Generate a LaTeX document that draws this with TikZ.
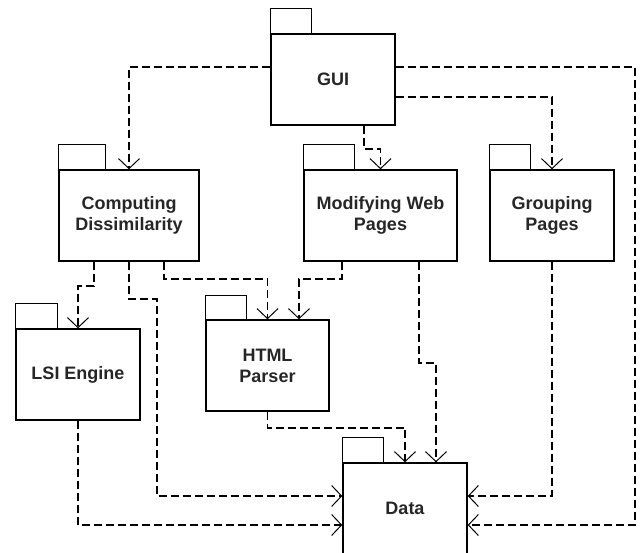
\documentclass[tikz,border=0pt]{standalone}
\usepackage{fontspec}
\setmainfont{Liberation Sans}
\usetikzlibrary{arrows.meta}
\tikzset{
  pkg/.style={draw=black, line width=1.4pt, minimum height=91pt, inner sep=0pt,
    align=center, font=\bfseries\fontsize{18}{21}\selectfont, text=black!85},
  tab/.style={draw=black, line width=1.4pt},
  dep/.style={draw=black, line width=1.8pt, dash pattern=on 8pt off 4pt,
    -{Straight Barb[length=10pt,width=21pt,line width=1pt]}},
}
\begin{document}
\begin{tikzpicture}[x=1pt,y=-1pt]
\clip (0,0) rectangle (640,553);
\fill[white] (0,0) rectangle (640,553);
% packages
\node[pkg, minimum width=124pt] (gui) at (333,79.5) {GUI};
\node[pkg, minimum width=140pt] (cd) at (129,215.5) {Computing\\Dissimilarity};
\node[pkg, minimum width=153pt] (mwp) at (380.5,215.5) {Modifying Web\\Pages};
\node[pkg, minimum width=124pt] (gp) at (552,215.5) {Grouping\\Pages};
\node[pkg, minimum width=124pt] (lsi) at (78,374.5) {LSI Engine};
\node[pkg, minimum width=123pt] (html) at (267.5,365.5) {HTML\\Parser};
\node[pkg, minimum width=124pt] (data) at (405,508.5) {Data};
% tabs
\draw[tab] (gui.north west) rectangle ++(41,-25);
\draw[tab] (cd.north west) rectangle ++(47,-25);
\draw[tab] (mwp.north west) rectangle ++(51,-25);
\draw[tab] (gp.north west) rectangle ++(41,-25);
\draw[tab] (lsi.north west) rectangle ++(42,-25);
\draw[tab] (html.north west) rectangle ++(41,-24);
\draw[tab] (data.north west) rectangle ++(41,-25);
% dependencies
\draw[dep] ([yshift=12.5pt]gui.west) -| (cd.north);
\draw[dep] ([yshift=12.5pt]gui.east) -- ++(239,0) |- ([yshift=-16.5pt]data.east);
\draw[dep] ([yshift=-17.5pt]gui.east) -| (gp.north);
\draw[dep] ([xshift=31pt]gui.south) -- ++(0,23) -| (mwp.north);
\draw[dep] ([xshift=-35pt]cd.south) -- ++(0,24) -| (lsi.north);
\draw[dep] (cd.south) -- ++(0,37) -- ++(28,0) |- ([yshift=12.5pt]data.west);
\draw[dep] ([xshift=35pt]cd.south) -- ++(0,17) -| (html.north);
\draw[dep] ([xshift=-38.5pt]mwp.south) -- ++(0,17) -| ([xshift=31.5pt]html.north);
\draw[dep] ([xshift=38.5pt]mwp.south) -- ++(0,101) -| ([xshift=31pt]data.north);
\draw[dep] (gp.south) |- ([yshift=12.5pt]data.east);
\draw[dep] (lsi.south) |- ([yshift=-16.5pt]data.west);
\draw[dep] (html.south) -- ++(0,16) -| (data.north);
\end{tikzpicture}
\end{document}
